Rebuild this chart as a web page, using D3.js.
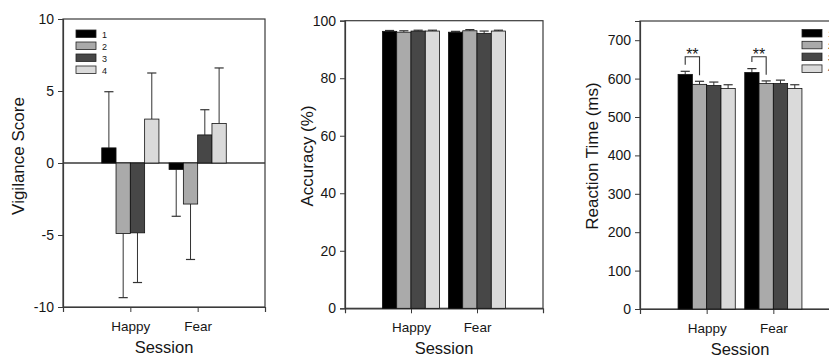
<!DOCTYPE html>
<html>
<head>
<meta charset="utf-8">
<script src="https://cdn.jsdelivr.net/npm/d3@7"></script>
<style>
  body { margin: 0; background: #fff; }
  svg { display: block; font-family: Arial, "Liberation Sans", sans-serif; }
</style>
</head>
<body>
<svg id="chart" width="829" height="358"></svg>
<script>
// data
const sessions = ['Happy', 'Fear'];
const groups = ['1', '2', '3', '4'];
const groupColors = ['#000000', '#aaaaaa', '#474747', '#dadada'];

const vigilanceMean = [[1.05, -4.9, -4.85, 3.05], [-0.45, -2.85, 1.95, 2.75]];
const vigilanceErr = [[3.9, 4.45, 3.45, 3.2], [3.25, 3.85, 1.75, 3.85]];
const vigilanceTicks = [-10, -5, 0, 5, 10];

const accuracyMean = [[96.3, 96.0, 96.4, 96.4], [96.0, 96.5, 95.6, 96.4]];
const accuracyErr = [[0.3, 0.5, 0.3, 0.3], [0.3, 0.4, 0.8, 0.3]];
const accuracyTicks = [0, 20, 40, 60, 80, 100];

const rtMean = [[611, 585, 582, 574], [616, 587, 587, 574]];
const rtErr = [[8, 8, 9, 10], [10, 7, 9, 10]];
const rtTicks = [0, 100, 200, 300, 400, 500, 600, 700];

// significance: group 1 vs group 2 in each session
const sigMarks = [
  { session: 'Happy', a: 0, b: 1, label: '**' },
  { session: 'Fear', a: 0, b: 1, label: '**' }
];

const svg = d3.select('#chart');
const ink = '#161616';
const frameColor = '#3a3a3a';

function drawPanel(p) {
  const g = svg.append('g');
  const x = d3.scalePoint().domain(sessions).range([p.left, p.right]).padding(1);
  const xi = d3.scaleBand().domain(groups).range([-28.6, 28.6]).padding(0);
  const y = d3.scaleLinear().domain(p.domain).range([p.bottom, p.top]);

  // frame
  g.append('rect')
    .attr('x', p.left).attr('y', p.top)
    .attr('width', p.right - p.left).attr('height', p.bottom - p.top)
    .attr('fill', 'none').attr('stroke', frameColor).attr('stroke-width', 1.2);

  // y axis
  const ya = g.append('g')
    .attr('transform', `translate(${p.left},0)`)
    .call(d3.axisLeft(y).tickValues(p.ticks).tickSize(5).tickPadding(4).tickFormat(d3.format('d')));
  ya.select('.domain').attr('stroke', frameColor).attr('stroke-width', 1.2);
  ya.selectAll('.tick line').attr('stroke', frameColor);
  ya.selectAll('.tick text').attr('fill', ink).style('font-size', '14px')
    .text(d => String(d));

  // x axis
  const xa = g.append('g')
    .attr('transform', `translate(0,${p.bottom})`)
    .call(d3.axisBottom(x).tickSize(5).tickPadding(9));
  xa.select('.domain').attr('stroke', frameColor).attr('stroke-width', 1.2);
  xa.selectAll('.tick line').attr('stroke', frameColor);
  xa.selectAll('.tick text').attr('fill', ink).style('font-size', '13.5px');

  // zero line
  if (p.domain[0] < 0) {
    g.append('line')
      .attr('x1', p.left).attr('x2', p.right)
      .attr('y1', y(0)).attr('y2', y(0))
      .attr('stroke', frameColor).attr('stroke-width', 1.4);
  }

  const rows = [];
  sessions.forEach((s, si) => {
    groups.forEach((gr, gi) => {
      rows.push({ s, gi, mean: p.mean[si][gi], err: p.err[si][gi] });
    });
  });

  const bars = g.append('g').selectAll('g').data(rows).join('g');
  const cap = xi.bandwidth() * 0.32;

  // error bars (drawn away from zero)
  bars.each(function (d) {
    const cx = x(d.s) + xi(groups[d.gi]) + xi.bandwidth() / 2;
    const end = d.mean >= 0 ? d.mean + d.err : d.mean - d.err;
    const sel = d3.select(this);
    sel.append('line')
      .attr('x1', cx).attr('x2', cx).attr('y1', y(d.mean)).attr('y2', y(end))
      .attr('stroke', '#333').attr('stroke-width', 1);
    sel.append('line')
      .attr('x1', cx - cap).attr('x2', cx + cap).attr('y1', y(end)).attr('y2', y(end))
      .attr('stroke', '#333').attr('stroke-width', 1.2);
  });

  bars.append('rect')
    .attr('x', d => x(d.s) + xi(groups[d.gi]))
    .attr('y', d => y(Math.max(0, d.mean)))
    .attr('width', xi.bandwidth())
    .attr('height', d => Math.abs(y(d.mean) - y(0)))
    .attr('fill', d => groupColors[d.gi])
    .attr('stroke', '#111').attr('stroke-width', 0.8);

  // significance brackets
  if (p.sig) {
    p.sig.forEach(m => {
      const si = sessions.indexOf(m.session);
      const xa1 = x(m.session) + xi(groups[m.a]) + xi.bandwidth() / 2;
      const xb1 = x(m.session) + xi(groups[m.b]) + xi.bandwidth() / 2;
      const ya1 = y(p.mean[si][m.a] + p.err[si][m.a] + 17);
      const yb1 = y(p.mean[si][m.b] + p.err[si][m.b] + 16);
      const yt = y(657);
      g.append('path')
        .attr('d', `M${xa1},${ya1}V${yt}H${xb1}V${yb1}`)
        .attr('fill', 'none').attr('stroke', '#333').attr('stroke-width', 1.1);
      g.append('text')
        .attr('x', (xa1 + xb1) / 2).attr('y', yt + 3)
        .attr('text-anchor', 'middle')
        .attr('fill', ink).style('font-size', '16px')
        .text(m.label);
    });
  }

  // legend
  if (p.legend) {
    groups.forEach((gr, gi) => {
      const ly = p.legend.y + gi * p.legend.step;
      g.append('rect')
        .attr('x', p.legend.x).attr('y', ly)
        .attr('width', 20).attr('height', 7.5)
        .attr('fill', groupColors[gi]).attr('stroke', '#222').attr('stroke-width', 0.8);
      g.append('text')
        .attr('x', p.legend.x + 26).attr('y', ly + 7.5)
        .attr('fill', ink).style('font-size', '9px')
        .text(gr);
    });
  }

  // axis titles
  g.append('text')
    .attr('transform', `translate(${p.ytitleX},156) rotate(-90)`)
    .attr('text-anchor', 'middle').attr('dy', '0.35em')
    .attr('fill', ink).style('font-size', '17px')
    .text(p.ytitle);
  g.append('text')
    .attr('x', (p.left + p.right) / 2).attr('y', p.bottom + 46)
    .attr('text-anchor', 'middle')
    .attr('fill', ink).style('font-size', '16.5px')
    .text('Session');
}

drawPanel({
  left: 63, right: 265, top: 19, bottom: 307,
  domain: [-10, 10], ticks: vigilanceTicks,
  mean: vigilanceMean, err: vigilanceErr,
  ytitle: 'Vigilance Score', ytitleX: 18,
  legend: { x: 76, y: 30, step: 12 }
});

drawPanel({
  left: 345, right: 543, top: 20.7, bottom: 308.3,
  domain: [0, 100], ticks: accuracyTicks,
  mean: accuracyMean, err: accuracyErr,
  ytitle: 'Accuracy (%)', ytitleX: 307
});

drawPanel({
  left: 640, right: 840, top: 21, bottom: 309,
  domain: [0, 750], ticks: rtTicks,
  mean: rtMean, err: rtErr,
  ytitle: 'Reaction Time (ms)', ytitleX: 592,
  sig: sigMarks,
  legend: { x: 802, y: 29.5, step: 11.8 }
});
</script>
</body>
</html>
